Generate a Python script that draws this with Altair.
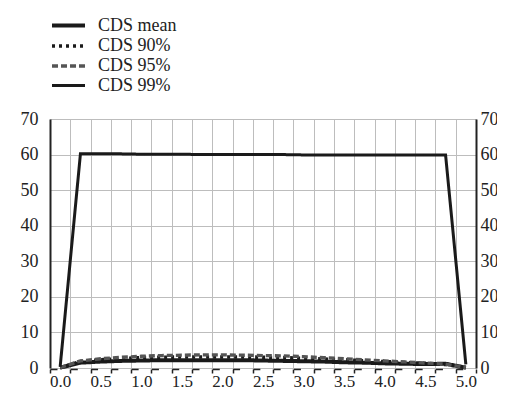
import altair as alt
import pandas as pd

categories = ["0.0", "0.25", "0.5", "0.75", "1.0", "1.25", "1.5", "1.75", "2.0", "2.25",
              "2.5", "2.75", "3.0", "3.25", "3.5", "3.75", "4.0", "4.25", "4.5", "4.75", "5.0"]
cds_mean = [0.1, 1.5, 1.8, 2.0, 2.1, 2.2, 2.2, 2.2, 2.2, 2.2, 2.1, 2.0, 1.9, 1.8, 1.6, 1.5, 1.3, 1.2, 1.1, 1.2, 0.1]
cds_90 = [0.1, 1.8, 2.3, 2.6, 2.9, 3.0, 3.1, 3.1, 3.1, 3.1, 3.0, 2.9, 2.7, 2.5, 2.3, 2.0, 1.8, 1.5, 1.3, 1.0, 0.1]
cds_95 = [0.1, 2.0, 2.6, 3.0, 3.3, 3.5, 3.6, 3.7, 3.7, 3.6, 3.5, 3.4, 3.2, 2.9, 2.6, 2.3, 2.0, 1.7, 1.4, 1.1, 0.1]
cds_99 = [0.3, 60.2, 60.2, 60.2, 60.1, 60.1, 60.1, 60.0, 60.0, 60.0, 60.0, 60.0, 59.9, 59.9, 59.9, 59.9, 59.9, 59.9, 59.9, 59.9, 1.0]

series_names = ["CDS mean", "CDS 90%", "CDS 95%", "CDS 99%"]
series_values = [cds_mean, cds_90, cds_95, cds_99]

rows = []
for name, vals in zip(series_names, series_values):
    for c, v in zip(categories, vals):
        rows.append({"x": c, "y": v, "series": name})
df = pd.DataFrame(rows)

FONT = "Liberation Serif, Times New Roman, serif"

base = alt.Chart(df)

lines = base.mark_line(strokeJoin="miter", strokeCap="butt").encode(
    x=alt.X("x:O", sort=categories,
            scale=alt.Scale(type="band", paddingInner=0, paddingOuter=0),
            axis=alt.Axis(title=None, labelAngle=0, tickBand="extent",
                          labelExpr="length(datum.label) == 3 ? datum.label : ''",
                          grid=True, gridColor="#bdbdbd", gridWidth=1,
                          domain=True, domainColor="#222", domainWidth=1.5,
                          domainDash=[7, 13.286],
                          ticks=True, tickColor="#222", tickSize=4, tickWidth=1.5,
                          offset=1, labelPadding=0,
                          labelFont=FONT, labelFontSize=17, labelColor="#222")),
    y=alt.Y("y:Q", scale=alt.Scale(domain=[0, 70], nice=False),
            axis=alt.Axis(title=None, values=[0, 10, 20, 30, 40, 50, 60, 70],
                          grid=True, gridColor="#bdbdbd", gridWidth=1,
                          domain=True, domainColor="#222", domainWidth=2,
                          ticks=False, labelPadding=12,
                          labelFont=FONT, labelFontSize=18, labelColor="#222")),
    color=alt.Color("series:N", sort=series_names,
                    scale=alt.Scale(domain=series_names, range=["#1a1a1a", "#1a1a1a", "#555555", "#1a1a1a"]),
                    legend=alt.Legend(title=None)),
    strokeDash=alt.StrokeDash("series:N", sort=series_names,
                              scale=alt.Scale(domain=series_names, range=[[1, 0], [3, 4], [6, 3], [1, 0]]),
                              legend=alt.Legend(title=None)),
    strokeWidth=alt.StrokeWidth("series:N", sort=series_names,
                                scale=alt.Scale(domain=series_names, range=[4, 3, 3.5, 2]),
                                legend=alt.Legend(title=None)),
)

right_axis = base.mark_line(opacity=0).encode(
    y=alt.Y("y:Q", scale=alt.Scale(domain=[0, 70], nice=False),
            axis=alt.Axis(title=None, orient="right", values=[0, 10, 20, 30, 40, 50, 60, 70],
                          grid=False, domain=True, domainColor="#222", domainWidth=2,
                          ticks=False, labelPadding=4,
                          labelFont=FONT, labelFontSize=18, labelColor="#222")),
)

chart = alt.layer(lines, right_axis).resolve_scale(y="independent").properties(
    width=426, height=249,
    autosize=alt.AutoSizeParams(type="none"),
    padding={"left": 42, "top": 111, "right": 21, "bottom": 22},
).configure_view(stroke=None).configure_legend(
    orient="none", legendX=0, legendY=-104,
    symbolType="M-2,0H2", symbolSize=272, symbolStrokeColor="#1a1a1a",
    labelFont=FONT, labelFontSize=18, labelColor="#222", labelOffset=19,
    rowPadding=0.5, padding=0, symbolOffset=8,
)

chart.save("out.html", embed_options={"renderer": "svg", "actions": False})
